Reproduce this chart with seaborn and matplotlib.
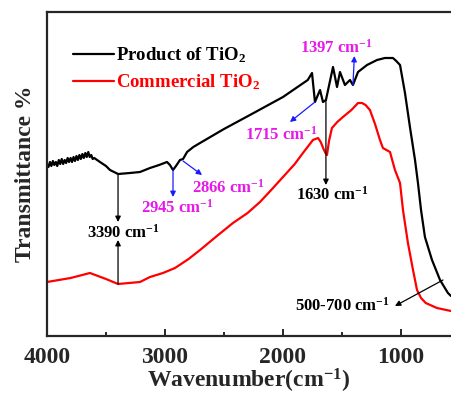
import numpy as np
import pandas as pd
import matplotlib
matplotlib.use("Agg")
import matplotlib.pyplot as plt
from matplotlib.ticker import MultipleLocator
import seaborn as sns

# ---- data (wavenumber cm^-1, transmittance in arbitrary units) ----
prod_wn = [4000, 3988, 3975, 3963, 3950, 3938, 3925, 3913, 3900, 3888, 3875, 3863, 3850,
           3838, 3825, 3813, 3800, 3788, 3775, 3763, 3750, 3738, 3725, 3713, 3700, 3688,
           3675, 3663, 3650, 3638, 3625, 3613, 3600,
           3551, 3500, 3466, 3398, 3297, 3212, 3127, 3050, 2983, 2958, 2932, 2907, 2873,
           2847, 2813, 2760, 2703, 2500, 2280, 2000, 1790, 1754, 1729, 1686, 1661,
           1636, 1576, 1542, 1517, 1475, 1432, 1407, 1364, 1288, 1203, 1136, 1068, 1040,
           1008, 966, 924, 881, 856, 830, 797, 737, 669, 602, 576]
prod_t = [171, 169, 174, 170, 175, 171, 174, 170, 176, 172, 177, 172, 176,
          173, 178, 174, 178, 174, 179, 175, 180, 176, 181, 177, 182, 178,
          183, 179, 184, 179, 181, 177, 178,
          174, 170, 166, 162, 163, 164, 168, 171, 174, 171, 166, 170, 176,
          177, 184, 189, 193, 207, 221, 239, 256, 263, 234, 246, 234,
          236, 269, 249, 264, 251, 256, 251, 264, 271, 276, 278, 278, 275,
          271, 243, 209, 176, 153, 126, 99, 76, 56, 43, 40]

comm_wn = [4000, 3800, 3636, 3500, 3398, 3212, 3127, 3017, 2915, 2800, 2703, 2560, 2424,
           2300, 2195, 2100, 2000, 1900, 1831, 1746, 1703, 1680, 1660, 1640, 1627, 1610,
           1585, 1540, 1492, 1420, 1364, 1330, 1300, 1263, 1220, 1178, 1153, 1093, 1051,
           1008, 983, 941, 898, 864, 830, 790, 695, 576]
comm_t = [54, 58, 63, 57, 52, 54, 59, 63, 68, 77, 86, 100, 113,
          123, 134, 146, 159, 172, 183, 196, 198, 194, 188, 183, 181, 195,
          208, 214, 219, 226, 233, 233, 231, 226, 212, 196, 188, 184, 166,
          153, 126, 93, 66, 46, 38, 33, 28, 25]

labels = ["Product of TiO$_2$", "Commercial TiO$_2$"]

df = pd.concat([
    pd.DataFrame({"wn": prod_wn, "T": prod_t, "sample": labels[0]}),
    pd.DataFrame({"wn": comm_wn, "T": comm_t, "sample": labels[1]}),
])

sns.set_style("ticks")
plt.rcParams["font.family"] = ["Liberation Serif", "DejaVu Serif"]
plt.rcParams["font.weight"] = "bold"
plt.rcParams["mathtext.fontset"] = "custom"
plt.rcParams["mathtext.rm"] = "Liberation Serif:bold"
plt.rcParams["mathtext.it"] = "Liberation Serif:bold"
plt.rcParams["mathtext.bf"] = "Liberation Serif:bold"

fig = plt.figure(figsize=(4.51, 3.94), dpi=100)
ax = fig.add_axes([47 / 451, 58 / 394, 404 / 451, 324 / 394])

sns.lineplot(data=df, x="wn", y="T", hue="sample", palette=["black", "red"],
             estimator=None, linewidth=1.6, ax=ax)

ax.set_xlim(4000, 576)
ax.set_ylim(0, 324)
ax.xaxis.set_major_locator(MultipleLocator(1000))
ax.xaxis.set_minor_locator(MultipleLocator(500))
ax.tick_params(axis="x", which="both", direction="in", top=False, labelsize=17, width=1.4)
ax.tick_params(axis="x", which="major", length=5, pad=8)
ax.tick_params(axis="x", which="minor", length=3)
ax.set_yticks([])
for lab in ax.get_xticklabels():
    lab.set_fontweight("bold")
ax.spines["right"].set_visible(False)
for s in ["left", "bottom", "top"]:
    ax.spines[s].set_linewidth(1.6)

ax.set_xlabel("Wavenumber(cm$^{-1}$)", fontsize=17, fontweight="bold", labelpad=-1)
ax.set_ylabel("Transmittance %", fontsize=17, fontweight="bold", labelpad=8)

leg = ax.legend(loc="upper left", bbox_to_anchor=(0.045, 0.92), frameon=False,
                handlelength=2.2, handletextpad=0.1, labelspacing=0.4,
                borderaxespad=0, prop={"weight": "bold", "size": 13.5})
for t, c in zip(leg.get_texts(), ["black", "red"]):
    t.set_color(c)

mag = "#e619e6"
blue = "#1a1aff"
fs = 12

def ann(text, xy, xytext, tpos, tcolor, acolor):
    ax.annotate("", xy=xytext, xytext=xy,
                arrowprops=dict(arrowstyle="-|>", color=acolor, lw=0.9,
                                mutation_scale=8, shrinkA=0, shrinkB=0))
    if text:
        ax.text(tpos[0], tpos[1], text, color=tcolor, fontsize=fs, fontweight="bold",
                ha="center", va="center")

ann("1397 cm$^{-1}$", (1407, 251), (1395, 280), (1551, 288), mag, blue)
ann("1715 cm$^{-1}$", (1729, 234), (1941, 214), (2017, 201), mag, blue)
ann("2866 cm$^{-1}$", (2847, 175), (2686, 161), (2466, 148), mag, blue)
ann("2945 cm$^{-1}$", (2932, 166), (2932, 139), (2898, 128), mag, blue)
ann("3390 cm$^{-1}$", (3398, 161), (3398, 114), (3356, 103), "black", "black")
ann("", (3398, 52), (3398, 96), None, "black", "black")
ann("1630 cm$^{-1}$", (1636, 236), (1636, 151), (1585, 141), "black", "black")
ann("500-700 cm$^{-1}$", (644, 56), (1051, 30), (1500, 30), "black", "black")

fig.savefig("out.png", dpi=100)
